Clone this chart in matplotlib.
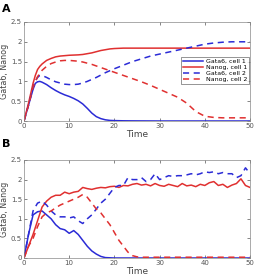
import numpy as np
import matplotlib
matplotlib.use("Agg")
import matplotlib.pyplot as plt

# Panel A (smooth)
tA = [0, 1, 2, 2.5, 3, 3.5, 4, 5, 6, 7, 8, 9, 10, 11, 12, 13, 14, 15, 16, 17, 18, 19, 20, 22, 24, 26, 28, 30, 32, 34, 36, 38, 40, 42, 44, 46, 48, 50]
gata6_c1_A = [0, 0.4, 0.8, 0.95, 0.99, 1.0, 0.98, 0.92, 0.84, 0.77, 0.71, 0.66, 0.62, 0.57, 0.51, 0.43, 0.32, 0.2, 0.11, 0.06, 0.03, 0.015, 0.01, 0.005, 0.003, 0.002, 0.001, 0, 0, 0, 0, 0, 0, 0, 0, 0, 0, 0]
nanog_c1_A = [0, 0.45, 0.95, 1.15, 1.3, 1.38, 1.44, 1.53, 1.58, 1.62, 1.64, 1.65, 1.66, 1.665, 1.67, 1.68, 1.7, 1.72, 1.75, 1.78, 1.8, 1.82, 1.83, 1.84, 1.84, 1.84, 1.84, 1.84, 1.84, 1.84, 1.84, 1.84, 1.84, 1.84, 1.84, 1.84, 1.84, 1.84]
gata6_c2_A = [0, 0.4, 0.85, 1.0, 1.1, 1.15, 1.15, 1.1, 1.04, 0.99, 0.96, 0.93, 0.92, 0.92, 0.93, 0.96, 1.0, 1.05, 1.1, 1.16, 1.22, 1.27, 1.32, 1.41, 1.5, 1.57, 1.64, 1.69, 1.74, 1.79, 1.84, 1.89, 1.94, 1.97, 1.99, 2.0, 2.0, 2.0]
nanog_c2_A = [0, 0.4, 0.85, 1.0, 1.12, 1.2, 1.28, 1.38, 1.45, 1.49, 1.52, 1.53, 1.53, 1.52, 1.51, 1.49, 1.46, 1.43, 1.39, 1.35, 1.31, 1.27, 1.23, 1.15, 1.07, 0.99, 0.9, 0.8, 0.7, 0.6, 0.45, 0.24, 0.12, 0.09, 0.08, 0.08, 0.08, 0.08]

# Panel B (stochastic)
tB = list(range(0, 51))
gata6_c1_B = [0, 0.6, 1.1, 1.18, 1.2, 1.1, 1.0, 0.85, 0.75, 0.72, 0.63, 0.7, 0.6, 0.45, 0.3, 0.18, 0.1, 0.04, 0.01, 0.005,
              0, 0, 0, 0, 0, 0, 0, 0, 0, 0, 0, 0, 0, 0, 0, 0, 0, 0, 0, 0, 0, 0, 0, 0, 0, 0, 0, 0, 0, 0, 0]
nanog_c1_B = [0, 0.3, 0.6, 0.95, 1.3, 1.45, 1.55, 1.6, 1.6, 1.68, 1.64, 1.68, 1.7, 1.8, 1.77, 1.75, 1.78, 1.8, 1.79, 1.82, 1.83,
              1.8, 1.85, 1.84, 1.88, 1.9, 1.86, 1.88, 1.84, 1.9, 1.85, 1.83, 1.88, 1.85, 1.82, 1.9, 1.84, 1.86, 1.82, 1.88, 1.85,
              1.92, 1.95, 1.85, 1.88, 1.8, 1.86, 1.9, 2.02, 1.85, 1.8]
gata6_c2_B = [0, 0.6, 1.2, 1.4, 1.45, 1.35, 1.2, 1.1, 1.05, 1.05, 1.02, 1.05, 0.95, 0.88, 1.0, 1.1, 1.25, 1.4, 1.5, 1.65, 1.8,
              1.85, 1.85, 2.05, 2.0, 2.0, 2.05, 1.95, 2.0, 2.15, 2.0, 2.05, 2.1, 2.08, 2.1, 2.1, 2.12, 2.15, 2.12, 2.15, 2.2,
              2.18, 2.2, 2.15, 2.18, 2.15, 2.15, 2.05, 2.1, 2.3, 2.15]
nanog_c2_B = [0, 0.3, 0.5, 0.8, 1.05, 1.15, 1.2, 1.28, 1.35, 1.4, 1.45, 1.5, 1.55, 1.62, 1.55, 1.4, 1.25, 1.15, 1.0, 0.85, 0.65,
              0.45, 0.3, 0.15, 0.06, 0.03, 0.02, 0.02, 0.02, 0.02, 0.02, 0.02, 0.02, 0.02, 0.02, 0.02, 0.02, 0.02, 0.02, 0.02, 0.02,
              0.02, 0.02, 0.02, 0.02, 0.02, 0.02, 0.02, 0.02, 0.02, 0.02]

legend_labels = ["Gata6, cell 1", "Nanog, cell 1", "Gata6, cell 2", "Nanog, cell 2"]
xticks = [0, 10, 20, 30, 40, 50]
yticks = [0, 0.5, 1, 1.5, 2, 2.5]
ytick_labels = ["0", "0.5", "1", "1.5", "2", "2.5"]

BLUE = "#2b2bd6"
RED = "#e03030"
W, H = 256, 278
fig = plt.figure(figsize=(W / 100, H / 100), dpi=100)

def make_ax(top, bottom):
    return fig.add_axes([24 / W, 1 - bottom / H, (250 - 24) / W, (bottom - top) / H])

axA = make_ax(22, 121)
axB = make_ax(160, 258)

for ax, t, series in [
    (axA, tA, [gata6_c1_A, nanog_c1_A, gata6_c2_A, nanog_c2_A]),
    (axB, tB, [gata6_c1_B, nanog_c1_B, gata6_c2_B, nanog_c2_B]),
]:
    styles = [(BLUE, "-"), (RED, "-"), (BLUE, (0, (4, 3))), (RED, (0, (4, 3)))]
    for y, (c, ls), lab in zip(series, styles, legend_labels):
        ax.plot(t, y, color=c, linestyle=ls, linewidth=1.1, label=lab)
    ax.set_xlim(0, 50)
    ax.set_ylim(0, 2.5)
    ax.set_xticks(xticks)
    ax.set_yticks(yticks)
    ax.set_yticklabels(ytick_labels)
    ax.tick_params(direction="in", length=2, width=0.5, labelsize=5, colors="#555555", pad=1.5,
                   top=True, right=True)
    for s in ax.spines.values():
        s.set_linewidth(0.5)
        s.set_color("#888888")
    ax.set_xlabel("Time", fontsize=6.5, color="#444444", labelpad=0.5)
    ax.set_ylabel("Gata6, Nanog", fontsize=5.8, color="#444444", labelpad=1.5)

leg = axA.legend(loc="center right", bbox_to_anchor=(0.995, 0.51), fontsize=4.5, frameon=True, fancybox=False,
                 handlelength=3.2, borderpad=0.3, labelspacing=0.1, handletextpad=0.4, borderaxespad=0)
leg.get_frame().set_linewidth(0.5)
leg.get_frame().set_edgecolor("#444444")

fig.text(2 / W, 1 - 9 / H, "A", fontsize=8, fontweight="bold", va="center")
fig.text(2 / W, 1 - 144 / H, "B", fontsize=8, fontweight="bold", va="center")

fig.savefig("out.png", dpi=100)
